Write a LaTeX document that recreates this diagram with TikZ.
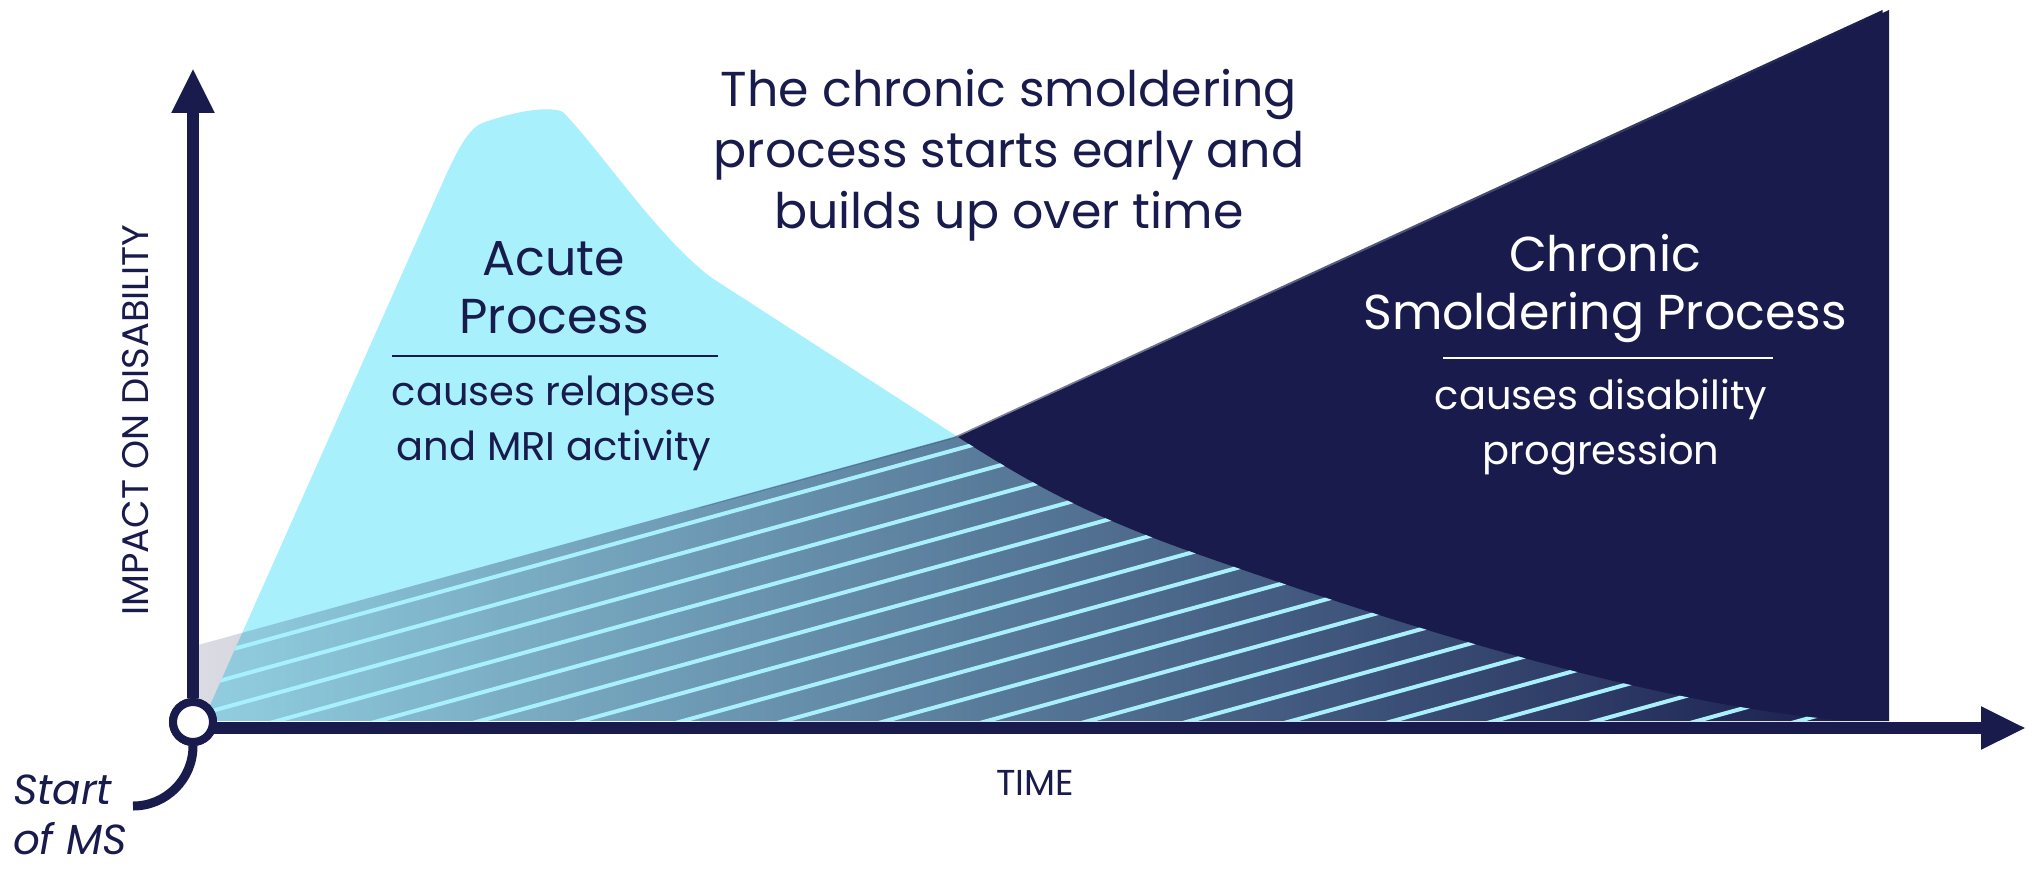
\documentclass[tikz,border=0pt]{standalone}
\usepackage{fontspec}
\setmainfont{Poppins}
\usetikzlibrary{arrows.meta,fadings}
\definecolor{navy}{HTML}{181B4B}
\definecolor{cyanl}{HTML}{A8F0FC}
\tikzfading[name=chrfade, left color=transparent!85, right color=transparent!0]
\tikzset{
  axis/.style={navy, line width=12pt, -{Triangle[length=45pt,width=40pt]}},
  big/.style={font=\fontsize{49}{61}\selectfont, align=center},
  mid/.style={font=\fontsize{49}{58}\selectfont, align=center},
  small/.style={font=\fontsize{40}{55}\selectfont, align=center},
}
\begin{document}
\begin{tikzpicture}[x=1pt,y=-1pt]
\useasboundingbox (0,0) rectangle (2028,872);
\def\acute{(203,721) -- (446,175) .. controls (462,140) and (472,126) .. (485,122) .. controls (520,110) and (550,106) .. (563,112) .. controls (600,150) and (660,240) .. (712,278) -- (958,437) .. controls (1040,490) and (1100,520) .. (1200,555) .. controls (1400,625) and (1650,705) .. (1850,721) -- cycle}
\def\chron{(193,647) -- (958,437) -- (1889,10) -- (1889,721) -- (193,721) -- cycle}
\fill[cyanl] \acute;
\fill[navy, path fading=chrfade] \chron;
\begin{scope}
  \clip (700,0) rectangle (1900,730);
  \clip \chron;
  \fill[navy, even odd rule] \chron \acute;
\end{scope}
\begin{scope}
  \clip \chron;
  \clip \acute;
  \foreach \k in {-2,...,75}
    \draw[cyanl, line width=4pt] (193,{721-\k*28+0.276*1707}) -- (1900,{721-\k*28});
\end{scope}
\node[circle, draw=navy, line width=8pt, fill=white, minimum size=40pt, inner sep=0pt] (o) at (193,722) {};
\coordinate (ytip) at (193,68);
\coordinate (xtip) at (2026,728);
\coordinate (xs) at (213,728);
\draw[axis] (o.north) -- (ytip);
\draw[axis] (xs) -- (xtip);
\node[circle,draw=navy, line width=8pt, fill=white, minimum size=40pt, inner sep=0pt] (o2) at (193,722) {};
\draw[navy, line width=9pt] (o2.south) arc[start angle=0, end angle=-90, radius=60pt];
\node[big, text=navy] (title) at (1009,155) {The chronic smoldering\\process starts early and\\builds up over time};
\node[mid, text=navy] (ah) at (554,288) {Acute\\Process};
\draw[navy, line width=2pt] (392,356) -- (718,356);
\node[small, text=navy] (ab) at (554,423) {causes relapses\\and MRI activity};
\node[mid, text=white] (ch) at (1605,288) {Chronic\\Smoldering Process};
\draw[white, line width=2pt] (1443,358) -- (1773,358);
\node[small, text=white] (cb) at (1601,427) {causes disability\\progression};
\node[text=navy, rotate=90, font=\fontsize{37}{40}\selectfont] (yl) at (136,420) {IMPACT ON DISABILITY};
\node[text=navy, font=\fontsize{36}{40}\selectfont] (xl) at (1035,783) {TIME};
\node[text=navy, font=\fontsize{42}{50}\selectfont\itshape, align=left] (st) at (70,815) {Start\\of MS};
\end{tikzpicture}
\end{document}
